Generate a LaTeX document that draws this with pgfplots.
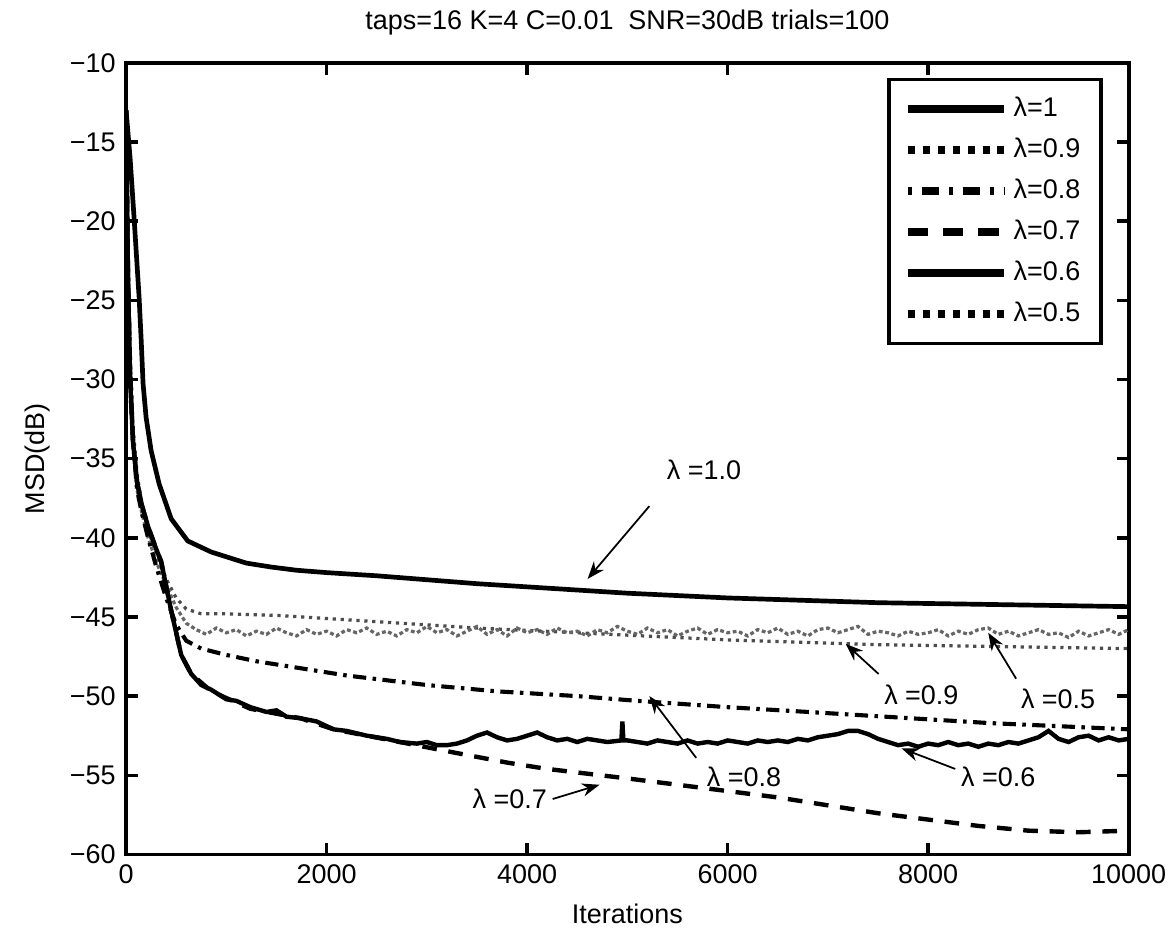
\documentclass[border=0pt]{standalone}
\usepackage{fontspec}
\setmainfont{Liberation Sans}
\usepackage{pgfplots}
\pgfplotsset{compat=1.18}
\usetikzlibrary{arrows.meta}

\pgfplotsset{
  lone/.style={black, line width=1.6pt},
  lnine/.style={black!70, line width=1.1pt, dash pattern=on 1.1pt off 1.6pt},
  leight/.style={black, line width=1.4pt, dash pattern=on 4.5pt off 2.2pt on 1.2pt off 2.2pt},
  lseven/.style={black, line width=1.5pt, dash pattern=on 5pt off 4pt},
  lsix/.style={black, line width=1.5pt},
  lfive/.style={black!60, line width=1.1pt, dash pattern=on 1.3pt off 0.9pt},
}
\tikzset{note/.style={-{Stealth[length=6pt,width=4.5pt]}, line width=0.6pt, black}}

\begin{document}
\begin{tikzpicture}[font=\fontsize{9.2}{11}\selectfont]
\begin{axis}[
  scale only axis, width=342pt, height=270pt,
  xmin=0, xmax=10000, ymin=-60, ymax=-10,
  xtick={0,2000,4000,6000,8000,10000},
  xticklabels={0,2000,4000,6000,8000,10000},
  scaled x ticks=false,
  ytick={-60,-55,-50,-45,-40,-35,-30,-25,-20,-15,-10},
  yticklabels={−60,−55,−50,−45,−40,−35,−30,−25,−20,−15,−10},
  tick align=inside, xtick pos=both, ytick pos=both,
  major tick length=4pt,
  axis line style={line width=1.3pt},
  every tick/.style={black, line width=1.2pt},
  title={taps=16 K=4 C=0.01\ \ SNR=30dB trials=100},
  xlabel={Iterations}, ylabel={MSD(dB)},
  legend style={at={(0.974,0.981)}, anchor=north east, draw=black,
    line width=1.2pt, row sep=1.8pt, inner xsep=5pt, inner ysep=4pt},
  legend cell align=left,
  legend image code/.code={\draw[#1] (0cm,0cm) -- (1.15cm,0cm);},
]
\addlegendimage{black, line width=2.8pt}
\addlegendentry{λ=1}
\addlegendimage{black, line width=2.6pt, dash pattern=on 2.4pt off 2.7pt}
\addlegendentry{λ=0.9}
\addlegendimage{black, line width=2.6pt, dash pattern=on 1.4pt off 3.3pt on 6pt off 3.3pt}
\addlegendentry{λ=0.8}
\addlegendimage{black, line width=2.8pt, dash pattern=on 7pt off 5pt}
\addlegendentry{λ=0.7}
\addlegendimage{black, line width=2.8pt}
\addlegendentry{λ=0.6}
\addlegendimage{black, line width=2.6pt, dash pattern=on 2.4pt off 2.7pt}
\addlegendentry{λ=0.5}

% lambda = 0.9
\addplot[lnine, forget plot] coordinates {
(0,-13) (20,-22) (40,-28) (70,-33) (110,-36) (160,-38) (220,-39.5) (300,-41)
(400,-42.6) (500,-43.8) (600,-44.5) (750,-44.8) (1000,-44.8) (1500,-44.9)
(2000,-45.1) (2500,-45.3) (3000,-45.5) (3500,-45.7) (4000,-45.85) (4500,-46.0)
(5000,-46.15) (5500,-46.3) (6000,-46.45) (6500,-46.55) (7000,-46.65) (7500,-46.75)
(8000,-46.8) (8500,-46.85) (9000,-46.9) (9500,-46.95) (10000,-47.0)
};
% lambda = 0.5
\addplot[lfive, forget plot] coordinates {
(0,-13) (20,-22) (40,-29) (70,-34) (110,-37) (160,-38.5) (220,-40) (300,-41.5)
(400,-43) (500,-44.4) (600,-45.4) (700,-45.8) (800,-46.1) (900,-45.7) (1000,-46.0)
(1100,-45.8) (1200,-46.2) (1300,-45.9) (1400,-46.1) (1500,-45.7) (1600,-46.0)
(1700,-46.2) (1800,-45.8) (1900,-46.1) (2000,-45.9) (2100,-46.2) (2200,-45.8)
(2300,-46.0) (2400,-45.7) (2500,-46.1) (2600,-45.9) (2700,-46.2) (2800,-45.8)
(2900,-46.0) (3000,-45.6) (3100,-46.0) (3200,-45.8) (3300,-46.2) (3400,-45.9)
(3500,-45.6) (3600,-46.1) (3700,-45.8) (3800,-46.2) (3900,-45.7) (4000,-46.0)
(4100,-45.8) (4200,-46.1) (4300,-45.7) (4400,-46.0) (4500,-45.9) (4600,-46.2)
(4700,-45.8) (4800,-46.0) (4900,-45.6) (5000,-45.9) (5100,-46.1) (5200,-45.7)
(5300,-46.0) (5400,-45.8) (5500,-46.2) (5600,-45.9) (5700,-45.7) (5800,-46.1)
(5900,-45.8) (6000,-46.0) (6100,-45.9) (6200,-46.2) (6300,-45.8) (6400,-46.0)
(6500,-45.7) (6600,-46.1) (6700,-45.9) (6800,-46.2) (6900,-45.8) (7000,-45.7)
(7100,-46.0) (7200,-45.8) (7300,-45.6) (7400,-46.1) (7500,-45.9) (7600,-46.0)
(7700,-46.2) (7800,-45.9) (7900,-46.1) (8000,-46.0) (8100,-45.8) (8200,-46.2)
(8300,-45.9) (8400,-46.1) (8500,-45.8) (8600,-45.7) (8700,-46.1) (8800,-45.9)
(8900,-46.2) (9000,-46.0) (9100,-45.8) (9200,-46.1) (9300,-46.0) (9400,-46.3)
(9500,-45.9) (9600,-46.2) (9700,-46.0) (9800,-45.8) (9900,-46.1) (10000,-45.8)
};
% lambda = 0.8
\addplot[leight, forget plot] coordinates {
(0,-13) (20,-23) (40,-29) (70,-34) (110,-37) (160,-38.5) (220,-40) (300,-41.8)
(400,-43.8) (500,-45.5) (600,-46.5) (750,-47.0) (1000,-47.4) (1300,-47.8)
(1700,-48.2) (2200,-48.7) (3000,-49.3) (3700,-49.7) (4500,-50.0) (5100,-50.3)
(6000,-50.7) (6800,-51.0) (7700,-51.35) (8600,-51.7) (9300,-51.9) (10000,-52.1)
};
% lambda = 0.7
\addplot[lseven, forget plot] coordinates {
(0,-13) (20,-24) (40,-30) (70,-34) (110,-36.5) (160,-38) (220,-39.3) (300,-40.7)
(350,-41.5) (450,-44.6) (550,-47.4) (650,-48.6) (850,-49.7) (1240,-50.8)
(1740,-51.4) (2070,-52.1) (2730,-52.9) (3300,-53.6) (3800,-54.2) (4200,-54.6)
(5000,-55.2) (5500,-55.6) (6000,-56.0) (6500,-56.4) (7000,-56.9) (7500,-57.4)
(8000,-57.8) (8500,-58.2) (9000,-58.5) (9500,-58.6) (10000,-58.5)
};
% lambda = 0.6
\addplot[lsix, forget plot] coordinates {
(0,-13) (20,-24) (40,-30) (70,-34) (110,-36.5) (160,-38) (220,-39.3) (300,-40.7)
(350,-41.5) (450,-44.6) (550,-47.4) (650,-48.6) (750,-49.3) (850,-49.6)
(1000,-50.2) (1100,-50.3) (1240,-50.7) (1400,-51.0) (1500,-50.9) (1600,-51.3)
(1740,-51.4) (1900,-51.6) (2070,-52.1) (2200,-52.2) (2400,-52.5) (2600,-52.7)
(2730,-52.9) (2900,-53.0) (3000,-52.9) (3100,-53.1) (3200,-53.1) (3300,-53.0)
(3400,-52.8) (3500,-52.5) (3600,-52.3) (3700,-52.6) (3800,-52.8) (3900,-52.7)
(4000,-52.5) (4100,-52.3) (4200,-52.6) (4300,-52.8) (4400,-52.7) (4500,-52.9)
(4600,-52.7) (4700,-52.8) (4800,-52.9) (4940,-52.8) (4950,-51.6) (4960,-52.8)
(5000,-52.8) (5100,-52.9) (5200,-53.0) (5300,-52.8) (5400,-52.9) (5500,-53.0)
(5600,-52.8) (5700,-53.0) (5800,-52.9) (5900,-53.0) (6000,-52.8) (6100,-52.9)
(6200,-53.0) (6300,-52.8) (6400,-52.9) (6500,-52.8) (6600,-52.9) (6700,-52.7)
(6800,-52.8) (6900,-52.6) (7000,-52.5) (7100,-52.4) (7200,-52.2) (7300,-52.2)
(7400,-52.4) (7500,-52.7) (7600,-52.9) (7700,-53.1) (7800,-53.0) (7900,-53.2)
(8000,-53.0) (8100,-53.1) (8200,-52.9) (8300,-53.1) (8400,-53.0) (8500,-53.2)
(8600,-53.0) (8700,-53.1) (8800,-52.9) (8900,-53.0) (9000,-52.8) (9100,-52.6)
(9200,-52.2) (9300,-52.7) (9400,-52.9) (9500,-52.6) (9600,-52.5) (9700,-52.8)
(9800,-52.6) (9900,-52.8) (10000,-52.7)
};
% lambda = 1
\addplot[lone, forget plot] coordinates {
(0,-13) (40,-16) (80,-19.8) (130,-24.8) (150,-27.4) (170,-30.3) (200,-32.4)
(250,-34.5) (330,-36.6) (450,-38.8) (615,-40.2) (850,-40.9) (1200,-41.6)
(1450,-41.85) (1700,-42.05) (2000,-42.2) (2500,-42.4) (3000,-42.65) (3500,-42.9)
(4000,-43.1) (4500,-43.3) (5000,-43.5) (5500,-43.65) (6000,-43.8) (6500,-43.9)
(7000,-44.0) (7500,-44.1) (8000,-44.15) (8500,-44.2) (9000,-44.25) (9500,-44.3)
(10000,-44.35)
};

% annotations
\node at (axis cs:5765,-35.7) {λ =1.0};
\draw[note] (axis cs:5219,-38.0) -- (axis cs:4603,-42.6);
\node at (axis cs:7932,-49.95) {λ =0.9};
\draw[note] (axis cs:7505,-48.6) -- (axis cs:7177,-46.7);
\node at (axis cs:9296,-50.2) {λ =0.5};
\draw[note] (axis cs:8877,-48.9) -- (axis cs:8599,-46.0);
\node at (axis cs:6163,-55.1) {λ =0.8};
\draw[note] (axis cs:5686,-53.9) -- (axis cs:5219,-50.0);
\node at (axis cs:8698,-55.1) {λ =0.6};
\draw[note] (axis cs:8270,-54.6) -- (axis cs:7734,-53.3);
\node at (axis cs:3827,-56.5) {λ =0.7};
\draw[note] (axis cs:4255,-56.5) -- (axis cs:4722,-55.6);
\end{axis}
% white margin on the left, as in the reference
\path (current axis.west) ++(-42.5pt,0) node[inner sep=0pt] {};
\end{tikzpicture}
\end{document}
